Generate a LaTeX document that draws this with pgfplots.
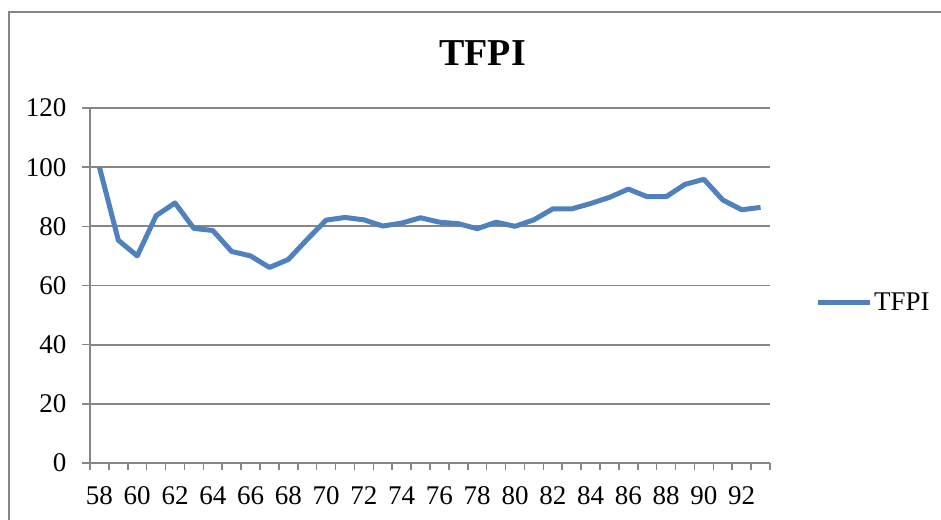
\documentclass[border=0pt]{standalone}
\usepackage{fontspec}
\setmainfont{Liberation Serif}
\usepackage{pgfplots}
\pgfplotsset{compat=1.18}
\definecolor{linec}{HTML}{4F81BD}
\definecolor{gridc}{HTML}{868686}
\begin{document}
\begin{tikzpicture}[x=1pt,y=1pt]
\useasboundingbox (0,0) rectangle (941,519);
\draw[gridc, line width=1.5pt] (9,-5) -- (9,507) -- (950,507);
\begin{axis}[
  at={(90pt,56pt)}, anchor=south west,
  scale only axis, width=680pt, height=355pt,
  xmin=57.5, xmax=93.5, ymin=0, ymax=120,
  axis x line*=bottom, axis y line*=left,
  axis line style={gridc, line width=1.8pt},
  xtick={58,60,...,92},
  minor xtick={57.5,58.5,...,93.5},
  ytick={0,20,...,120},
  ymajorgrids, major grid style={gridc, line width=1.8pt},
  tick align=outside,
  major tick length=8pt, minor tick length=7pt,
  x tick style={draw=none},
  minor x tick style={draw=gridc, line width=1.5pt},
  y tick style={gridc, line width=1.5pt},
  ticklabel style={font=\fontsize{27pt}{31pt}\selectfont},
  /pgf/number format/assume math mode=true,
  xticklabel style={yshift=-12pt},
  yticklabel style={xshift=-12pt},
  legend style={at={(1,0.4535)}, anchor=west, xshift=45pt, draw=none, inner sep=0pt,
     font=\fontsize{27pt}{31pt}\selectfont, fill=none},
  legend image code/.code={\draw[linec, line width=5pt] (0pt,0pt) -- (52pt,0pt);},
]
\addplot[linec, line width=5pt, line join=round] coordinates {
(58,100) (59,75.3) (60,70) (61,83.6) (62,87.9) (63,79.3) (64,78.6) (65,71.5)
(66,70) (67,66.1) (68,68.8) (69,75.6) (70,82.1) (71,83.0) (72,82.2) (73,80.1)
(74,81.1) (75,82.9) (76,81.4) (77,80.9) (78,79.2) (79,81.4) (80,80.0) (81,82.2)
(82,85.9) (83,85.9) (84,87.7) (85,89.8) (86,92.6) (87,90.0) (88,90.0) (89,94.2)
(90,95.9) (91,88.9) (92,85.6) (93,86.4)
};
\addlegendentry{TFPI}
\end{axis}
\node[font=\bfseries\fontsize{38pt}{44pt}\selectfont] at (482.5,466) {TFPI};
\end{tikzpicture}
\end{document}
